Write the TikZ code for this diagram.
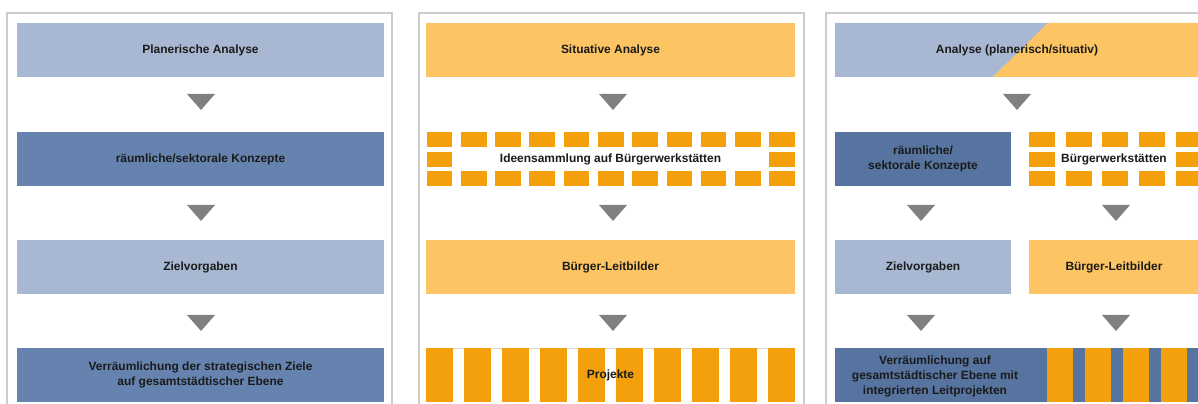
\documentclass[tikz,border=0pt]{standalone}
\usepackage{fontspec}
\setmainfont{Liberation Sans}
\usetikzlibrary{calc}
\newlength\px \setlength\px{0.03cm}
\definecolor{lblue}{HTML}{A8B8D2}
\definecolor{dblue}{HTML}{6583AE}
\definecolor{dblueb}{HTML}{56749F}
\definecolor{lorange}{HTML}{FCC462}
\definecolor{sorange}{HTML}{F3A00C}
\definecolor{agrey}{HTML}{808080}
\definecolor{frame}{HTML}{CDCDCD}
\definecolor{txt}{HTML}{1A1A1A}
\definecolor{thinline}{HTML}{DADADA}
\tikzset{
  box/.style={rectangle, inner sep=0pt, minimum height=54*\px, text=txt, align=center,
    font=\fontsize{10.2}{12.8}\selectfont\bfseries},
  wide/.style={minimum width=367*\px},
  half/.style={minimum width=176*\px},
  panel/.style={draw=frame, line width=1.2*\px},
  tri/.style={fill=agrey},
  sq/.style={fill=sorange},
}
\begin{document}
\begin{tikzpicture}[x=0.03cm, y=-0.03cm]
\useasboundingbox (0,0) rectangle (1198,404);
\clip (0,0) rectangle (1198,404);
\fill[white] (0,0) rectangle (1198,404);
% panels
\draw[panel] (7,13) rectangle (392,420);
\draw[panel] (419,13) rectangle (804,420);
\draw[panel] (826,13) rectangle (1230,420);

% ---------- panel 1 ----------
\node[box, wide, fill=lblue] (p1a) at (200.5,50) {Planerische Analyse};
\node[box, wide, fill=dblue] (p1b) at (200.5,159) {räumliche/sektorale Konzepte};
\node[box, wide, fill=lblue] (p1c) at (200.5,267) {Zielvorgaben};
\node[box, wide, fill=dblue] (p1d) at (200.5,375) {Verräumlichung der strategischen Ziele\\auf gesamtstädtischer Ebene};
\foreach \yt/\yb in {94/110, 205/221, 315/331}
  \fill[tri] (187,\yt) -- (215,\yt) -- (201,\yb) -- cycle;

% ---------- panel 2 ----------
\node[box, minimum width=369*\px, fill=lorange] (p2a) at (610.5,50) {Situative Analyse};
% Ideensammlung
\foreach \i in {0,...,10} {
  \fill[sq] ({426.7+\i*34.26},132) rectangle ++(25.7,15);
  \fill[sq] ({426.7+\i*34.26},171) rectangle ++(25.7,15);
}
\fill[sq] (426.7,152) rectangle ++(25.7,15);
\fill[sq] (769.3,152) rectangle ++(25.7,15);
\node[box, minimum width=369*\px] (p2b) at (610.5,159) {Ideensammlung auf Bürgerwerkstätten};
\node[box, minimum width=369*\px, fill=lorange] (p2c) at (610.5,267) {Bürger-Leitbilder};
% Projekte
\draw[thinline, line width=0.8*\px] (426,348) -- (795,348);
\foreach \i in {0,...,9}
  \fill[sq] ({426+\i*38},348) rectangle ++(26.5,54);
\node[box, minimum width=369*\px] (p2d) at (610.5,375) {Projekte};
\foreach \yt/\yb in {94/110, 205/221, 315/331}
  \fill[tri] (599,\yt) -- (627,\yt) -- (613,\yb) -- cycle;

% ---------- panel 3 ----------
\fill[lblue] (835,23) -- (1048,23) -- (993,77) -- (835,77) -- cycle;
\fill[lorange] (1048,23) -- (1199,23) -- (1199,77) -- (993,77) -- cycle;
\node[box, minimum width=364*\px] (p3a) at (1017,50) {Analyse (planerisch/situativ)};
\fill[tri] (1003,94) -- (1031,94) -- (1017,110) -- cycle;

\node[box, half, fill=dblueb] (p3b) at (923,159) {räumliche/\\sektorale Konzepte};
\foreach \i in {0,...,4} {
  \fill[sq] ({1029+\i*36.7},132) rectangle ++(26,15);
  \fill[sq] ({1029+\i*36.7},171) rectangle ++(26,15);
}
\fill[sq] (1029,152) rectangle ++(26,15);
\fill[sq] (1175.8,152) rectangle ++(26,15);
\node[box, minimum width=170*\px] (p3c) at (1114,159) {Bürgerwerkstätten};

\node[box, half, fill=lblue] (p3d) at (923,267) {Zielvorgaben};
\node[box, minimum width=171*\px, fill=lorange] (p3e) at (1114,267) {Bürger-Leitbilder};

\fill[dblueb] (835,348) rectangle (1205,402);
\foreach \i in {0,...,4}
  \fill[sq] ({1047+\i*38},348) rectangle ++(26,54);
\node[box, minimum width=200*\px, minimum height=54*\px] (p3f) at (935,376)
  {Verräumlichung auf\\gesamtstädtischer Ebene mit\\integrierten Leitprojekten};

\foreach \yt/\yb in {205/221, 315/331} {
  \fill[tri] (907,\yt) -- (935,\yt) -- (921,\yb) -- cycle;
  \fill[tri] (1102,\yt) -- (1130,\yt) -- (1116,\yb) -- cycle;
}
\end{tikzpicture}
\end{document}
